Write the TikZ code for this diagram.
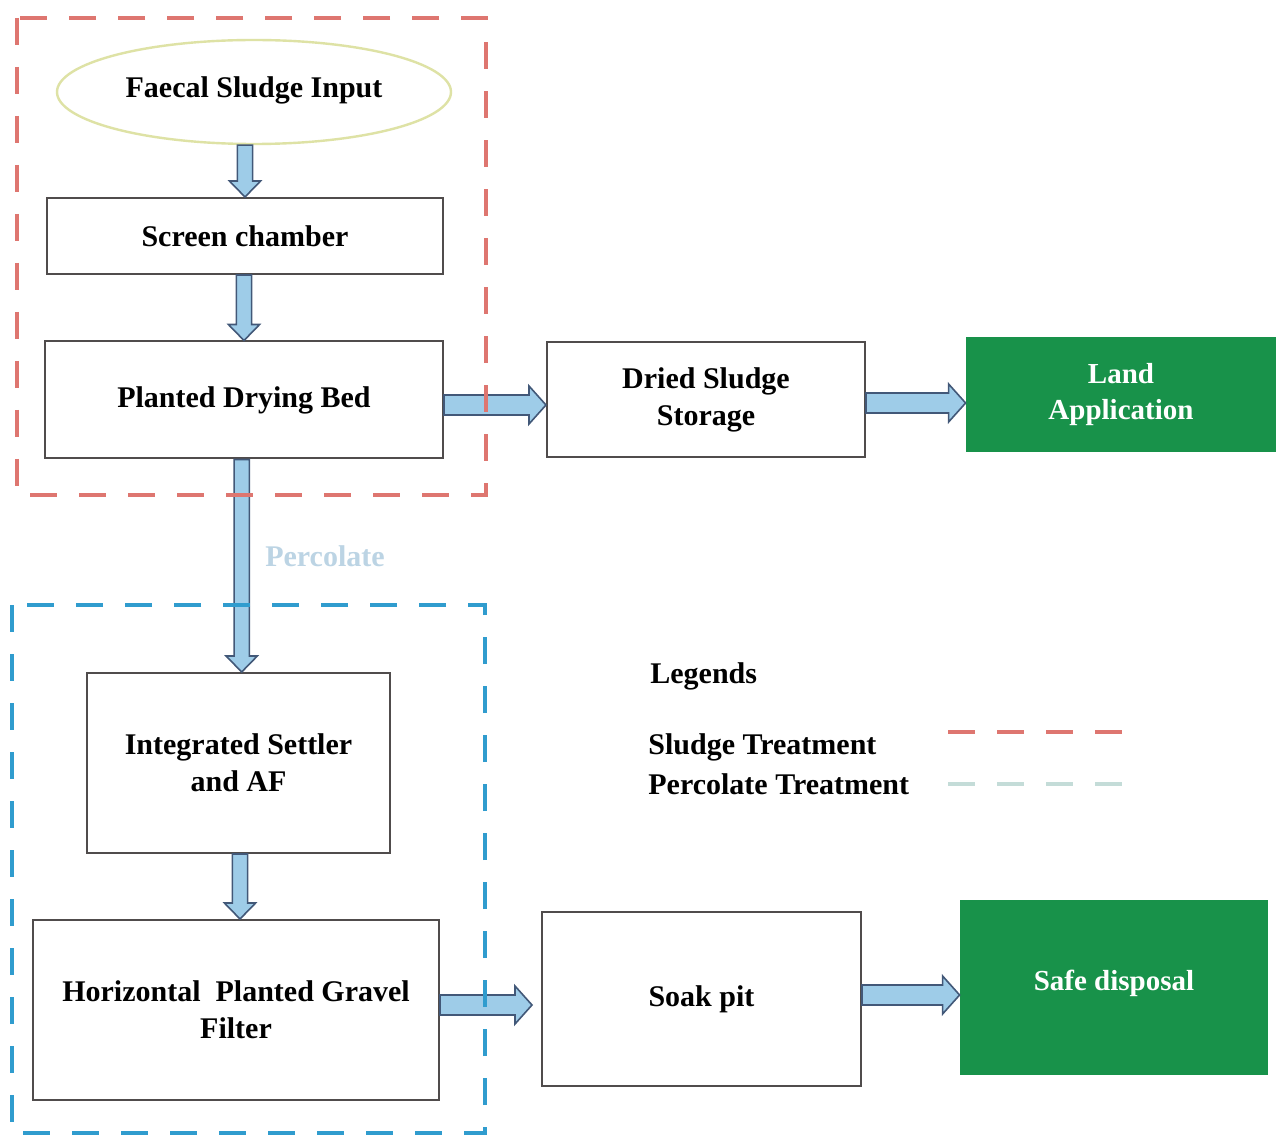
\documentclass[tikz,border=0pt]{standalone}
\usepackage{fontspec}
\setmainfont{Liberation Serif}
\usetikzlibrary{calc,shapes.geometric}
\definecolor{redd}{RGB}{222,118,112}
\definecolor{blued}{RGB}{48,156,206}
\definecolor{afill}{RGB}{158,204,232}
\definecolor{aline}{RGB}{66,88,120}
\definecolor{grn}{RGB}{24,146,74}
\definecolor{boxline}{RGB}{80,76,76}
\definecolor{ellline}{RGB}{222,226,165}
\definecolor{perc}{RGB}{188,212,228}
\definecolor{legp}{RGB}{196,220,216}
\begin{document}
\begin{tikzpicture}[x=0.5pt,y=-0.5pt,
  every node/.style={font=\fontsize{15}{18.5}\selectfont\bfseries, align=center},
  box/.style={draw=boxline, line width=1pt, fill=white, inner sep=0pt},
  gbox/.style={fill=grn, text=white, inner sep=0pt, font=\fontsize{14.5}{18}\selectfont\bfseries},
  ell/.style={ellipse, draw=ellline, line width=1.2pt, fill=white, inner sep=0pt},
  grp/.style={line width=2pt, dash pattern=on 13.5pt off 11pt},
  legtxt/.style={anchor=west, inner sep=0pt},
  dnarrow/.style={draw=aline, fill=afill, line width=0.8pt, line join=miter,
    to path={let \p1=(\tikztostart), \p2=(\tikztotarget) in
      (\x2-3.8pt,\y1) -- (\x2-3.8pt,\y2+8pt) -- (\x2-7.8pt,\y2+8pt) -- (\x2,\y2)
      -- (\x2+7.8pt,\y2+8pt) -- (\x2+3.8pt,\y2+8pt) -- (\x2+3.8pt,\y1) -- cycle}},
  rtarrow/.style={draw=aline, fill=afill, line width=0.8pt, line join=miter,
    to path={let \p1=(\tikztostart), \p2=(\tikztotarget) in
      (\x1,\y1-5pt) -- (\x2-8.5pt,\y1-5pt) -- (\x2-8.5pt,\y1-9.5pt) -- (\x2,\y1)
      -- (\x2-8.5pt,\y1+9.5pt) -- (\x2-8.5pt,\y1+5pt) -- (\x1,\y1+5pt) -- cycle}}
]
\useasboundingbox (0,0) rectangle (1276,1139);
\fill[white] (0,0) rectangle (1276,1139);

% nodes
\node[ell, minimum width=197pt, minimum height=52pt] (inp) at (254,92) {\raisebox{5pt}{Faecal Sludge Input}};
\node[box, minimum width=198pt, minimum height=38pt] (scr) at (245,236) {Screen chamber};
\node[box, minimum width=199pt, minimum height=58.5pt] (pdb) at (244,400) {Planted Drying Bed};
\node[box, minimum width=159pt, minimum height=57.5pt] (dss) at (706,400) {Dried Sludge\\Storage};
\node[gbox, minimum width=155pt, minimum height=57.5pt] (land) at (1121,395) {Land\\Application};
\node[box, minimum width=151.5pt, minimum height=90pt] (isaf) at (238.5,763) {Integrated Settler\\and AF};
\node[box, minimum width=203pt, minimum height=90pt] (hpgf) at (236,1010) {Horizontal\ \ Planted Gravel\\Filter};
\node[box, minimum width=159.5pt, minimum height=87pt] (soak) at (701.5,999) {\raisebox{3pt}{Soak pit}};
\node[gbox, minimum width=154pt, minimum height=87.5pt] (safe) at (1114,987) {\raisebox{7pt}{Safe disposal}};

\node[text=perc] (perclbl) at (325,556) {Percolate};

% arrows
\draw[dnarrow] (inp.south) to (scr.north);
\draw[dnarrow] (scr.south) to (pdb.north);
\draw[dnarrow] (pdb.south) to ([xshift=1.6pt]isaf.north);
\draw[dnarrow] (isaf.south) to ([xshift=2pt]hpgf.north);
\draw[rtarrow] ([yshift=-2.5pt]pdb.east) to (dss.west);
\draw[rtarrow] ([yshift=-1.5pt]dss.east) to (land.west);
\draw[rtarrow] ([yshift=2.5pt]hpgf.east) to ([xshift=-4.5pt]soak.west);
\draw[rtarrow] ([yshift=2pt]soak.east) to (safe.west);

% group boxes
\draw[grp, draw=redd] (17,18) rectangle (486,495);
\draw[grp, draw=blued] (12,605) rectangle (485,1133);

% legend
\node[legtxt] (leg) at (650,676) {Legends};
\node[legtxt] (legs) at (648,747) {Sludge Treatment};
\node[legtxt] (legp) at (648,784) {Percolate Treatment};
\draw[draw=redd, line width=2pt, dash pattern=on 13.5pt off 11pt] (948,732) -- (1122,732);
\draw[draw=legp, line width=2pt, dash pattern=on 13.5pt off 11pt] (948,784) -- (1122,784);
\end{tikzpicture}
\end{document}
